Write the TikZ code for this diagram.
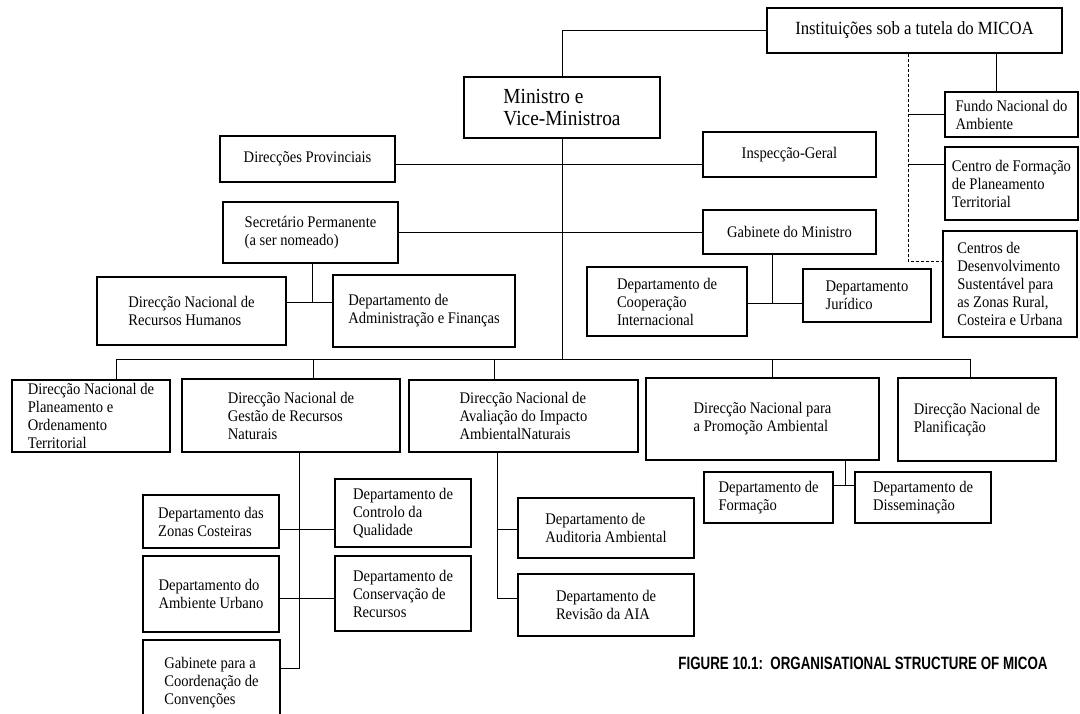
\documentclass[tikz,border=0pt]{standalone}
\usepackage{fontspec}
\setmainfont[FakeStretch=0.9]{Liberation Serif}
\newfontfamily\capfont[FakeStretch=0.75]{Liberation Sans}
\usetikzlibrary{positioning}
\usetikzlibrary{calc}

\begin{document}
\begin{tikzpicture}[x=1pt, y=-1pt, line width=1pt]

\tikzset{%
    every unit/.style = {
        draw,
        line width=1.6pt,
        align=left,
        inner sep=2pt,
        font=\fontsize{16.2}{18}\selectfont
    },
    unit mid/.style = {
        font=\fontsize{18.6}{20}\selectfont
    },
    unit big/.style = {
        font=\fontsize{21.5}{22}\selectfont
    }
}

\useasboundingbox (0,0) rectangle (1080,713);
\clip (0,0) rectangle (1080,713);

\foreach \n/\s/\x/\y/\w/\h/\txt in {
    inst/mid/914.5/30.5/295/45/{Instituições sob a tutela do MICOA},
    min/big/562/107.5/196/61/{Ministro e\\Vice-Ministroa},
    prov/body/307.5/159/175/46/{Direcções Provinciais},
    insp/body/789.5/154.5/173/45/{Inspecção-Geral},
    secp/body/310.5/232.5/175/61/{Secretário Permanente\\(a ser nomeado)},
    gab/body/789.5/232/173/44/{Gabinete do Ministro},
    dnrh/body/191.5/311/189/68/{Direcção Nacional de\\Recursos Humanos},
    daf/body/424/311/182/72/{Departamento de\\Administração e Finanças},
    dci/body/667/301.5/160/69/{Departamento de\\Cooperação\\Internacional},
    dj/body/867/295.5/128/53/{Departamento\\Jurídico},
    fundo/body/1011.5/114.5/133/45/{Fundo Nacional do\\Ambiente},
    cfpt/body/1011.5/183.5/133/73/{Centro de Formação\\de Planeamento\\Territorial},
    cds/body/1010/284/134/106/{Centros de\\Desenvolvimento\\Sustentável para\\as Zonas Rural,\\Costeira e Urbana},
    dnpot/body/91/416/158/72/{Direcção Nacional de\\Planeamento e\\Ordenamento\\Territorial},
    dngrn/body/291/415.5/218/73/{Direcção Nacional de\\Gestão de Recursos\\Naturais},
    dnaia/body/523.5/416/229/72/{Direcção Nacional de\\Avaliação do Impacto\\AmbientalNaturais},
    dnpa/body/762.5/419/233/82/{Direcção Nacional para\\a Promoção Ambiental},
    dnplan/body/977/419.5/158/83/{Direcção Nacional de\\Planificação},
    dzc/body/211/521.5/136/53/{Departamento das\\Zonas Costeiras},
    dcq/body/403/513/136/68/{Departamento de\\Controlo da\\Qualidade},
    dau/body/211/594/136/76/{Departamento do\\Ambiente Urbano},
    dcr/body/403/593.5/136/75/{Departamento de\\Conservação de\\Recursos},
    gcc/body/211.5/682.5/137/85/{Gabinete para a\\Coordenação de\\Convenções},
    daa/body/606/528/176/60/{Departamento de\\Auditoria Ambiental},
    dra/body/606/605/176/62/{Departamento de\\Revisão da AIA},
    dform/body/768.5/497.5/129/51/{Departamento de\\Formação},
    ddis/body/923/497.5/136/51/{Departamento de\\Disseminação}}
  \node [every unit/.try, unit \s/.try, minimum width=\w pt, minimum height=\h pt] (\n) at (\x,\y) {\txt};

\node [font=\capfont\bfseries\fontsize{17.8}{18}\selectfont] (caption) at (863,663)
  {FIGURE 10.1:\ \ ORGANISATIONAL STRUCTURE OF MICOA};

% ministro and the bus
\foreach \n/\x in {dnpot/116, dngrn/313, dnaia/494, dnpa/772, dnplan/970}
  \coordinate (bus-\n) at (\x,359);

\draw (inst) -| (min);
\draw (min) -- (min |- bus-dnpot);
\draw (bus-dnpot) -- (bus-dnplan);
\foreach \n in {dnpot, dngrn, dnaia, dnpa, dnplan}
  \draw (bus-\n) -- (bus-\n |- \n.north);

\draw ([yshift=-5pt]prov.east) -- ([yshift=-5pt]prov.east -| insp.west);
\draw (secp) -- (secp -| gab.west);

\coordinate (j-secp) at (312,302);
\draw (secp.south -| j-secp) -- (j-secp);
\draw (dnrh.east |- j-secp) -- (daf.west |- j-secp);

\coordinate (j-gab) at (772,303);
\draw (gab.south -| j-gab) -- (j-gab);
\draw (dci.east |- j-gab) -- (dj.west |- j-gab);

% institutions
\coordinate (j-fundo) at (996,92);
\draw (inst.south -| j-fundo) -- (fundo.north -| j-fundo);

\coordinate (j-dash) at (908,261);
\draw [densely dashed] (inst.south -| j-dash) -- (j-dash) -- (cds.west |- j-dash);
\draw (j-dash |- fundo.west) -- (fundo.west);
\draw ([yshift=-18pt]cfpt.north west -| j-dash) -- ([yshift=-18pt]cfpt.north west);

% departments
\coordinate (j-gest) at (299,668);
\coordinate (j-zc) at (299,529);
\coordinate (j-au) at (299,598);
\draw (dngrn.south -| j-gest) -- (j-gest) -- (gcc.east |- j-gest);
\draw (dzc.east |- j-zc) -- (dcq.west |- j-zc);
\draw (dau.east |- j-au) -- (dcr.west |- j-au);

\coordinate (j-aia) at (497,598);
\draw (dnaia.south -| j-aia) -- (j-aia) -- (dra.west |- j-aia);
\draw (j-aia |- j-zc) -- (daa.west |- j-zc);

\coordinate (j-prom) at (845,485);
\draw (dnpa.south -| j-prom) -- (j-prom);
\draw (dform.east |- j-prom) -- (ddis.west |- j-prom);

\end{tikzpicture}
\end{document}
